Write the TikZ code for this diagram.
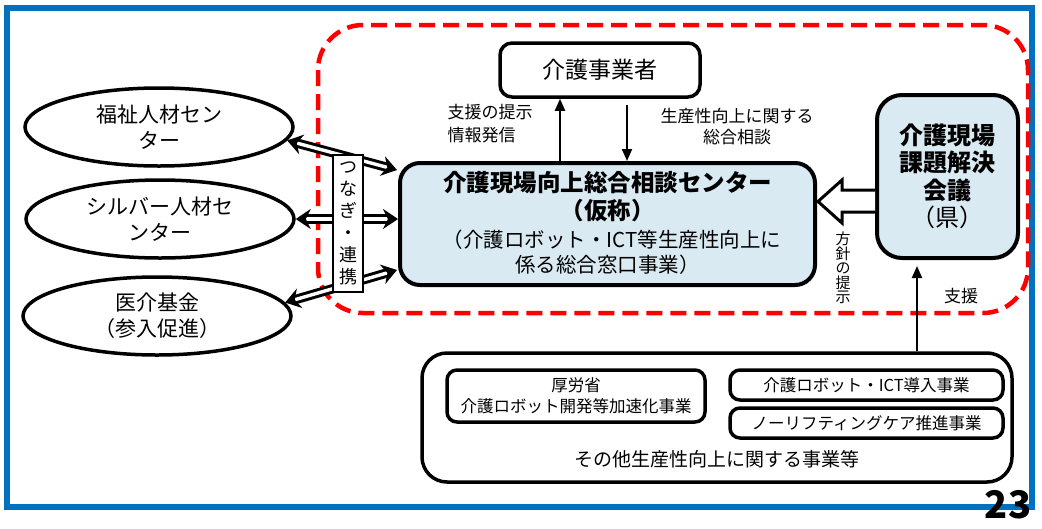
\documentclass[tikz,border=0pt]{standalone}
\usepackage{fontspec}
\setmainfont{Noto Sans CJK JP}
\usetikzlibrary{arrows.meta,calc,shapes.geometric}
\definecolor{frameblue}{HTML}{0070C0}
\definecolor{boxblue}{HTML}{DAEAF3}
\begin{document}
\begin{tikzpicture}[x=1pt,y=-1pt,
  rbox/.style={draw=black, line width=3.5pt, rounded corners=#1, inner sep=0pt},
  rbox/.default=12pt,
  ell/.style={draw=black, line width=3.5pt, ellipse, minimum width=268pt, minimum height=78pt, inner sep=0pt, align=center, font=\fontsize{21}{26}\selectfont},
  dbl/.style={double=white, double distance=3.4pt, line width=3pt, {Stealth[length=15pt,width=20pt,inset=5pt]}-{Stealth[length=15pt,width=20pt,inset=5pt]}},
  thin/.style={line width=2pt, -{Triangle[length=12pt,width=10pt]}},
  lbl/.style={inner sep=0pt, align=center}
]
\useasboundingbox (0,0) rectangle (1042,528);
% frames
\draw[frameblue, line width=6pt] (7,8) rectangle (1032,507);
\draw[red, line width=4.5pt, dash pattern=on 16pt off 8pt, rounded corners=45pt] (318,25) rectangle (1028,313);

% top box
\node[rbox, minimum width=200pt, minimum height=54pt, font=\fontsize{23}{28}\selectfont] (jig) at (600,70) {介護事業者};

% center box
\node[rbox=20pt, line width=4pt, fill=boxblue, minimum width=415pt, minimum height=122pt] (cb) at (607.5,224) {};
\node[lbl, font=\bfseries\fontsize{23.5}{28}\selectfont] (cbt1) at (607.5,183) {介護現場向上総合相談センター};
\node[lbl, font=\bfseries\fontsize{23.5}{28}\selectfont] (cbt2) at (607.5,211) {（仮称）};
\node[lbl, font=\fontsize{20.5}{25}\selectfont] (cbt3) at (612,240) {（介護ロボット・ICT等生産性向上に};
\node[lbl, font=\fontsize{20.5}{25}\selectfont] (cbt4) at (607.5,265) {係る総合窓口事業）};

% right box
\node[rbox=25pt, line width=4pt, fill=boxblue, minimum width=141pt, minimum height=163pt, align=center, font=\bfseries\fontsize{24}{27.5}\selectfont] (kg) at (947.5,176.5) {介護現場\\課題解決\\会議\\{\mdseries（県）}};

% arrows top
\draw[thin] ($(cb.north)+(-47.5,0)$) coordinate (u1) -- (u1 |- jig.south);
\draw[thin] ($(jig.south)+(27,6)$) coordinate (d1) -- (d1 |- cb.north);
\node[lbl, align=left, font=\fontsize{17}{23}\selectfont] (t1) at (490,124) {支援の提示\\情報発信};
\node[lbl, font=\fontsize{17}{21}\selectfont] (t2) at (737,127) {生産性向上に関する\\総合相談};

% hollow arrow
\draw[line width=3pt, fill=white, line join=miter]
  (kg.west |- 0,190) -- (842,190) -- (842,180) -- (818,201.5) -- (842,223) -- (842,212) -- (kg.west |- 0,212);
\node[lbl, font=\fontsize{15}{14.6}\selectfont] (hs) at (843,268) {方\\針\\の\\提\\示};

% bottom box
\node[rbox=25pt, minimum width=590pt, minimum height=129pt] (bb) at (717,417.5) {};
\node[rbox=10pt, minimum width=258pt, minimum height=52pt, align=center, font=\fontsize{16.5}{21}\selectfont] (mh) at (576,396) {厚労省\\介護ロボット開発等加速化事業};
\node[rbox=10pt, minimum width=273pt, minimum height=30pt, font=\fontsize{16.5}{20}\selectfont] (ict) at (866.5,385) {介護ロボット・ICT導入事業};
\node[rbox=10pt, minimum width=273pt, minimum height=30pt, font=\fontsize{16.5}{20}\selectfont] (nl) at (866.5,423) {ノーリフティングケア推進事業};
\node[lbl, font=\fontsize{19}{23}\selectfont] (oth) at (717,459) {その他生産性向上に関する事業等};

\draw[thin] (917,0 |- bb.north) coordinate (b1) -- ($(b1 |- kg.south)+(0,6)$);
\node[lbl, font=\fontsize{17}{21}\selectfont] (sh) at (961,296) {支援};

% ellipses
\node[ell] (e1) at (159,127) {福祉人材セン\\ター};
\node[ell] (e2) at (160,219) {シルバー人材セ\\ンター};
\node[ell] (e3) at (157,316) {医介基金\\（参入促進）};

\draw[dbl] (e1.-6) -- ($(cb.west)+(-1,-54)$);
\draw[dbl] (e2.east) -- (cb.west |- e2.east);
\draw[dbl] (e3.6) -- ($(cb.west)+(-1,46)$);

\node[draw=black, line width=2.5pt, fill=white, minimum width=30pt, minimum height=137pt, inner sep=0pt, align=center, font=\fontsize{18}{22}\selectfont] (tn) at (348,223.5) {つ\\な\\ぎ\\・\\連\\携};

\node[lbl, font=\bfseries\fontsize{38}{40}\selectfont] (pg) at (1008,505) {23};
\end{tikzpicture}
\end{document}
